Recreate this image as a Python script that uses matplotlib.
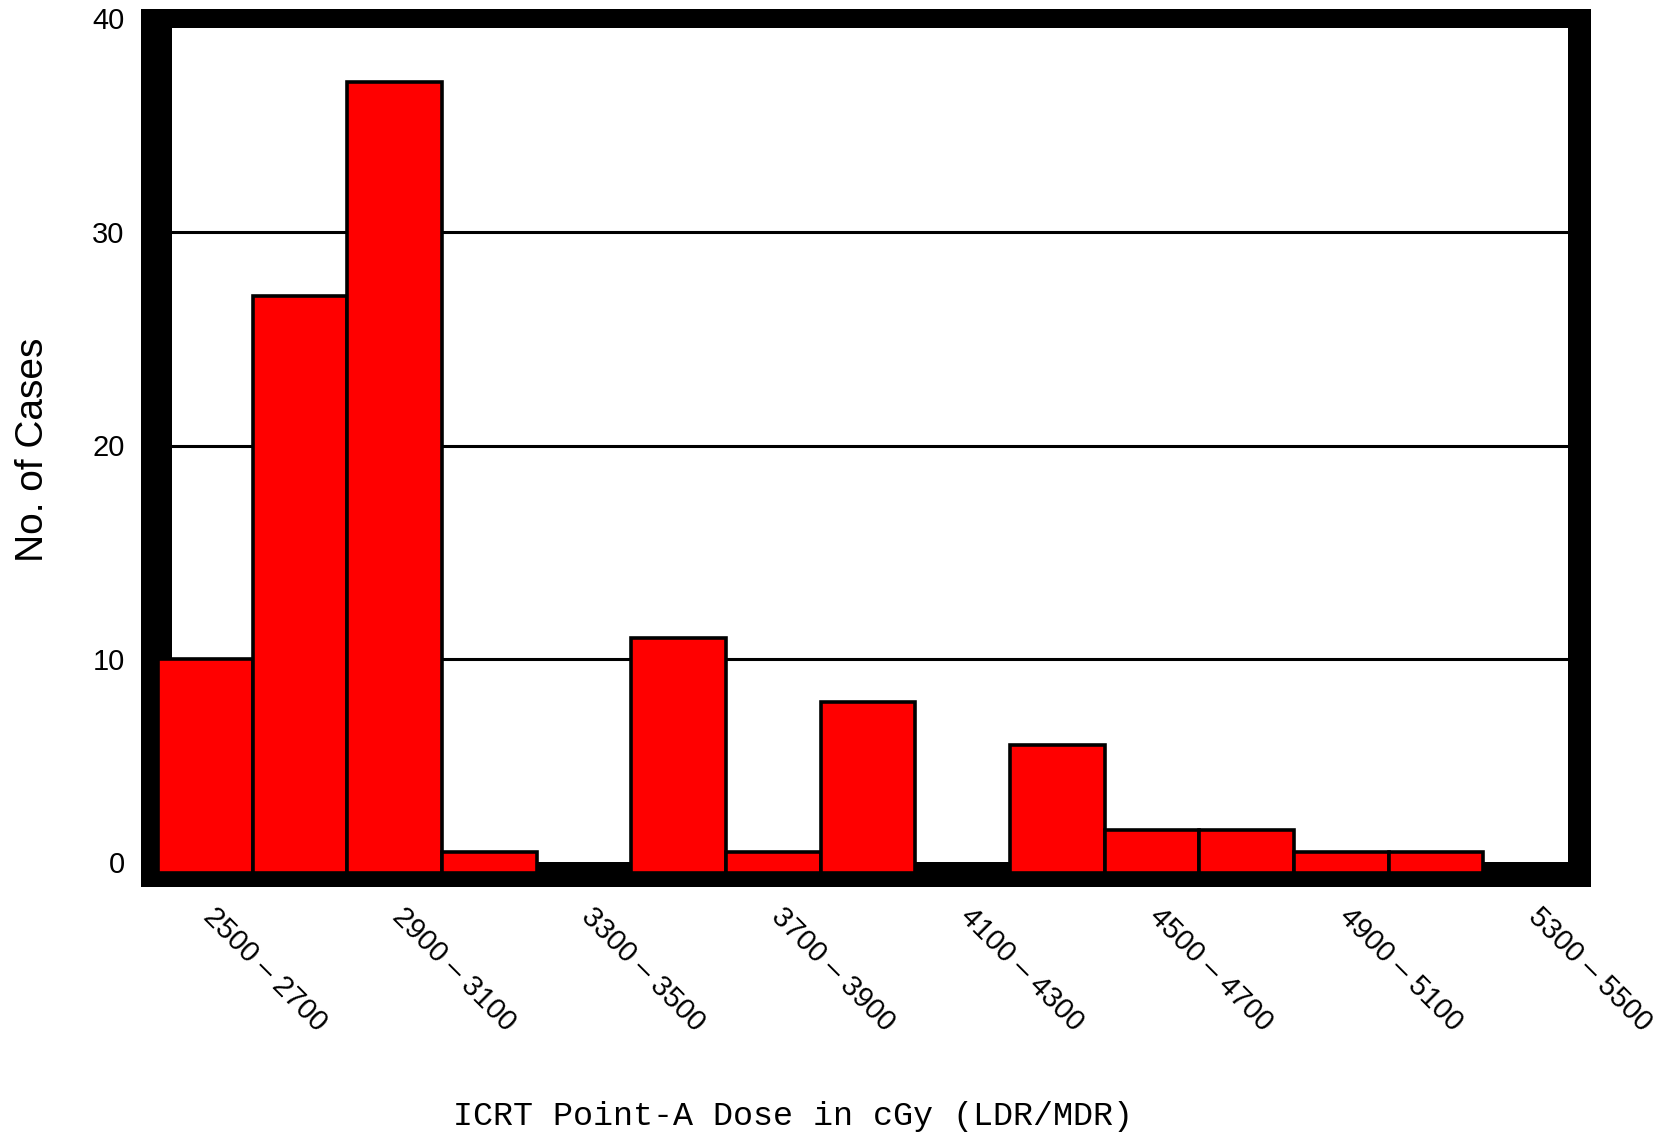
import matplotlib
matplotlib.use('Agg')
import matplotlib.pyplot as plt
import matplotlib.transforms as mtrans
from matplotlib.patches import Rectangle
import numpy as np

# dati dell'istogramma
bin_start = [2500, 2700, 2900, 3100, 3300, 3500, 3700, 3900, 4100, 4300, 4500, 4700, 4900, 5100, 5300]
bin_width = 200
cases = [10, 27, 37, 1, 0, 11, 1, 8, 0, 6, 2, 2, 1, 1, 0]
tick_pos = [2600, 3000, 3400, 3800, 4200, 4600, 5000, 5400]
tick_lab = ['2500 – 2700', '2900 – 3100', '3300 – 3500', '3700 – 3900',
            '4100 – 4300', '4500 – 4700', '4900 – 5100', '5300 – 5500']
y_ticks = [0, 10, 20, 30, 40]

W, H = 1675, 1134
fig = plt.figure(figsize=(W/100, H/100), dpi=100)
ax = fig.add_axes([158/W, 1-873/H, 1420/W, 855/H])

ax.bar(bin_start, cases, width=bin_width, align='edge', color='#ff0000',
       edgecolor='black', linewidth=2.6, zorder=2)
ax.set_xlim(2500, 5500)
ax.set_ylim(0, 40)
ax.set_yticks(y_ticks)
ax.set_yticklabels([str(v) for v in y_ticks], family='Liberation Sans', fontsize=21)
ax.set_xticks(tick_pos)
ax.set_xticklabels(tick_lab, family='Liberation Sans', fontsize=21, rotation=-45,
                   ha='left', va='top', rotation_mode='anchor')
ax.tick_params(length=0)
ax.tick_params(axis='y', pad=24)
ax.tick_params(axis='x', pad=21)
ax.yaxis.grid(True, color='black', linewidth=2.2)
ax.set_axisbelow(True)
for s in ax.spines.values():
    s.set_visible(False)

# sposto le etichette x verso destra, lo 0 un po' in alto
sh = mtrans.ScaledTranslation(0.12, 0, fig.dpi_scale_trans)
for lab in ax.get_xticklabels():
    lab.set_transform(lab.get_transform() + sh)
lab0 = ax.get_yticklabels()[0]
lab0.set_transform(lab0.get_transform() + mtrans.ScaledTranslation(0, 0.11, fig.dpi_scale_trans))

# cornice nera spessa (pixel dell'immagine)
def box(x0, y0, x1, y1):
    r = Rectangle((x0/W, 1-y1/H), (x1-x0)/W, (y1-y0)/H, transform=fig.transFigure,
                  facecolor='black', edgecolor='none', clip_on=False, zorder=1)
    ax.add_patch(r)

box(141, 9, 1591, 28)
box(1568, 9, 1591, 887)
box(141, 862, 1591, 887)
box(141, 9, 172, 887)

fig.text(33/W, 1-450/H, 'No. of Cases', rotation=90, ha='center', va='center',
         family='Liberation Sans', fontsize=28)
fig.text(793/W, 1-1125/H, 'ICRT Point-A Dose in cGy (LDR/MDR)', ha='center', va='baseline',
         family=['Liberation Mono', 'DejaVu Sans Mono'], fontsize=24)

fig.savefig('out.png', dpi=100)
